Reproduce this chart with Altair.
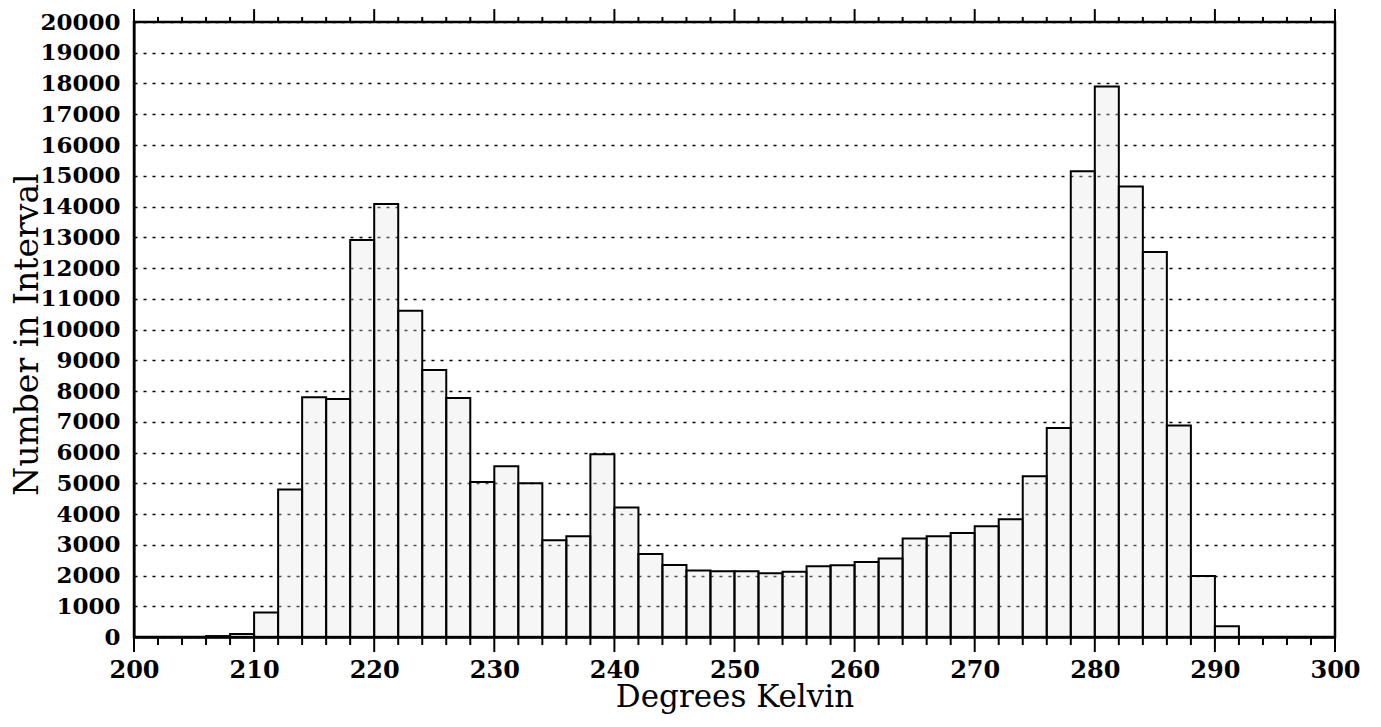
import altair as alt
import pandas as pd

# Histogram bins (2 K wide) and counts
bin_start = list(range(200, 300, 2))
counts = [0, 0, 0, 30, 100, 800, 4800, 7800, 7740, 12910,
          14080, 10610, 8680, 7770, 5040, 5550, 5000, 3150, 3280, 5940,
          4215, 2700, 2340, 2160, 2140, 2140, 2070, 2120, 2300, 2330,
          2440, 2550, 3200, 3280, 3380, 3600, 3830, 5230, 6800, 15150,
          17900, 14650, 12520, 6880, 1980, 350, 0, 0, 0, 0]
bin_width = 2
x_major = list(range(200, 301, 10))
x_minor = [v for v in range(200, 301, 2) if v % 10]
y_ticks = list(range(0, 20001, 1000))

df = pd.DataFrame({
    "lo": bin_start,
    "hi": [b + bin_width for b in bin_start],
    "count": counts,
})

FONT = "DejaVu Serif"
xscale = alt.Scale(domain=[200, 300], nice=False, zero=False)
yscale = alt.Scale(domain=[0, 20000], nice=False)

X_AXIS = alt.Axis(
    orient="bottom", values=x_major, ticks=False,
    domainWidth=2.5, domainColor="black",
    labelFont=FONT, labelFontSize=24, labelFontWeight="bold",
    labelColor="black", labelPadding=21, labelFlush=False, grid=False,
    title="Degrees Kelvin", titleFont=FONT, titleFontSize=31,
    titleFontWeight="normal", titleColor="black",
    titleBaseline="alphabetic", titleY=69,
)
Y_AXIS = alt.Axis(
    orient="left", values=y_ticks, ticks=False, format="d",
    grid=True, gridDash=[3, 6], gridColor="black", gridWidth=1.5,
    gridOpacity=1,
    domainWidth=2, domainColor="black",
    labelFont=FONT, labelFontSize=23, labelFontWeight="bold",
    labelColor="black", labelPadding=14,
    title="Number in Interval", titleFont=FONT, titleFontSize=33,
    titleFontWeight="normal", titleColor="black",
    titleAngle=270, titleAlign="center", titleBaseline="middle",
    titleX=-107, titleY=312,
)

bars = alt.Chart(df).mark_rect(
    fill="#e4e4e4", fillOpacity=0.35, stroke="black", strokeWidth=2
).encode(
    x=alt.X("lo:Q", scale=xscale, axis=X_AXIS),
    x2="hi:Q",
    y=alt.Y("count:Q", scale=yscale, axis=Y_AXIS),
    y2=alt.datum(0),
)


def tick_marks(values, y_from, y_to):
    # tick marks placed through the shared x and y scales
    return alt.Chart(pd.DataFrame({"t": values})).mark_rule(
        color="black", strokeWidth=2
    ).encode(
        x=alt.X("t:Q", scale=xscale, axis=X_AXIS),
        y=alt.YDatum(y_from, scale=yscale, axis=Y_AXIS),
        y2=alt.Y2Datum(y_to),
    )


chart = alt.layer(
    bars,
    tick_marks(x_major, 0, -490),       # bottom major ticks (outside)
    tick_marks(x_minor, 0, -260),       # bottom minor ticks
    tick_marks(x_major, 20000, 20420),  # top major ticks
    tick_marks(x_minor, 20000, 20165),  # top minor ticks
).properties(
    width=1201,
    height=615,
    autosize=alt.AutoSizeParams(type="none"),
    padding={"left": 126, "top": 14, "right": 30, "bottom": 77},
).configure(background="white").configure_view(stroke="black", strokeWidth=2.5)

chart.save("out.html", embed_options={"renderer": "svg", "actions": False})
